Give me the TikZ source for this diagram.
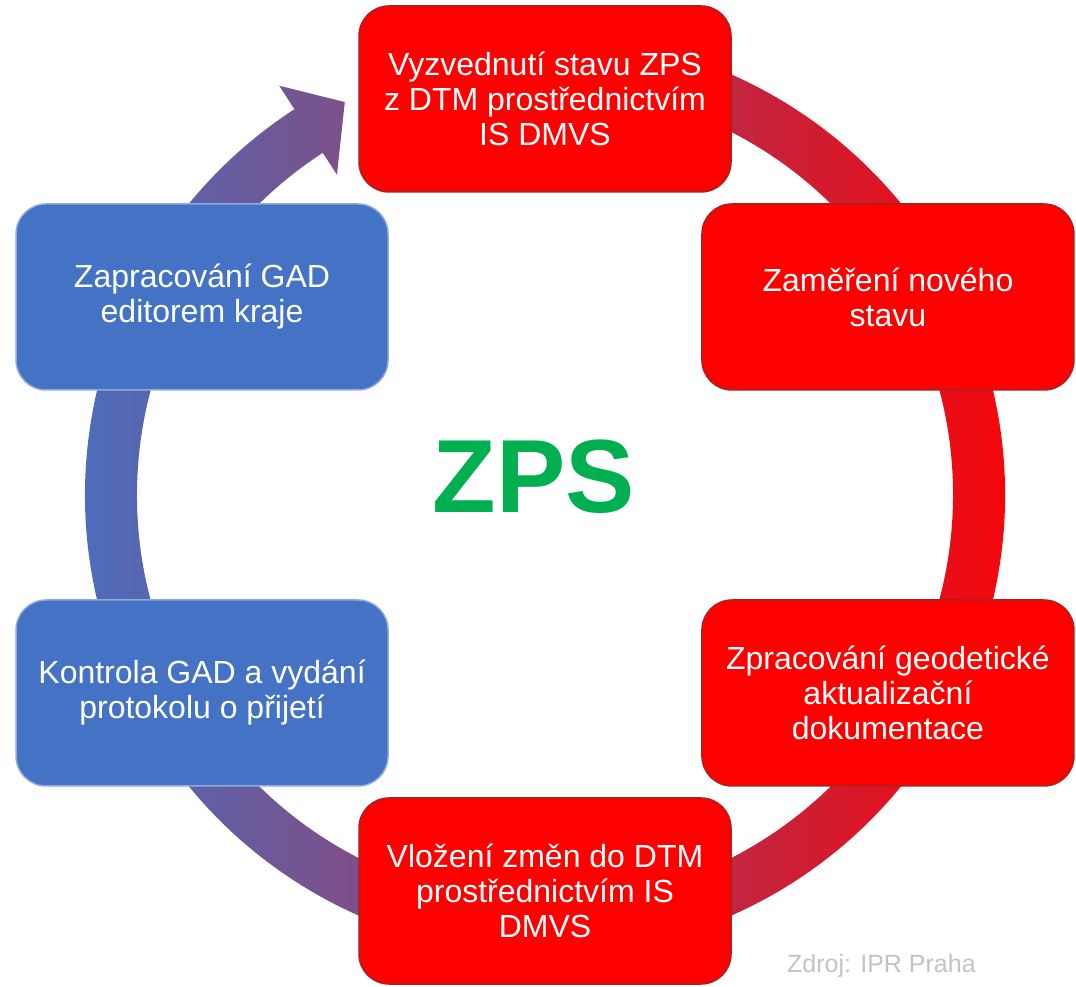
\documentclass[tikz,border=0pt]{standalone}
\usepackage{fontspec}
\setmainfont{Liberation Sans}
\usetikzlibrary{calc}
\definecolor{ringblue}{HTML}{4472C4}
\definecolor{ringred}{HTML}{FF0000}
\definecolor{boxred}{HTML}{FF0000}
\definecolor{boxredline}{HTML}{A82020}
\definecolor{boxblue}{HTML}{4472C4}
\definecolor{zpsgreen}{HTML}{00B050}
\definecolor{srcgray}{HTML}{C3C3C3}
\tikzset{
  stepbox/.style={rounded corners=30bp, minimum width=372bp, minimum height=186bp,
    align=center, text=white, font=\fontsize{32bp}{35bp}\selectfont,
    inner sep=0pt, line width=1.5bp},
  redbox/.style={stepbox, fill=boxred, draw=boxredline},
  bluebox/.style={stepbox, fill=boxblue, draw=boxblue!60!white},
}
\begin{document}
\begin{tikzpicture}[x=1bp,y=1bp]
\useasboundingbox (0,0) rectangle (1076,987);
\coordinate (C) at (545,492);
% ring with arrowhead
\shade[left color=ringblue, right color=ringred]
  ($(C)+(112:460)$) arc[start angle=112,end angle=-237,radius=460]
  -- ($(C)+(-237:408)$) arc[start angle=-237,end angle=112,radius=408] -- cycle
  ($(C)+(123:488)$) -- ($(C)+(117:441)$) -- ($(C)+(123:382)$) -- cycle;
% boxes
\node[redbox] (b1) at ($(C)+(90:396)$) {Vyzvednutí stavu ZPS\\z DTM prostřednictvím\\IS DMVS};
\node[redbox] (b2) at ($(C)+(30:396)$) {Zaměření nového\\stavu};
\node[redbox] (b3) at ($(C)+(-30:396)$) {Zpracování geodetické\\aktualizační\\dokumentace};
\node[redbox] (b4) at ($(C)+(-90:396)$) {Vložení změn do DTM\\prostřednictvím IS\\DMVS};
\node[bluebox] (b5) at ($(C)+(210:396)$) {Kontrola GAD a vydání\\protokolu o přijetí};
\node[bluebox] (b6) at ($(C)+(150:396)$) {Zapracování GAD\\editorem kraje};
% centre title
\node[font=\fontsize{104bp}{110bp}\selectfont\bfseries, text=zpsgreen, anchor=base, inner sep=0pt] (zps) at (534,474) {ZPS};
% source
\node[font=\fontsize{25bp}{28bp}\selectfont, text=srcgray, anchor=base west, inner sep=0pt] (src) at (787,14) {Zdroj: IPR Praha};
\end{tikzpicture}
\end{document}
